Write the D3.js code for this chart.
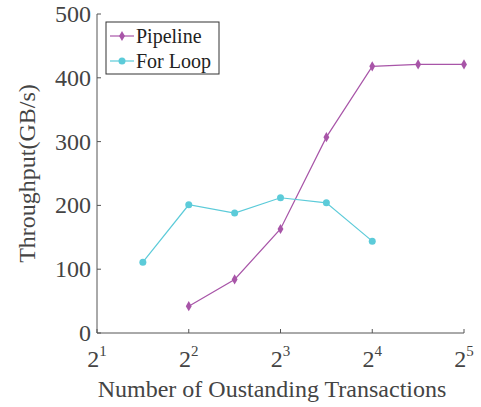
<!DOCTYPE html>
<html>
<head>
<meta charset="utf-8">
<script src="https://cdn.jsdelivr.net/npm/d3@7"></script>
<style>
  svg text, svg tspan { font-family: "Times New Roman", "Liberation Serif", Times, serif !important; }
</style>
</head>
<body style="margin:0">
<div id="chart"></div>
<script>
// data
const pipelineX = [4, 5.657, 8, 11.314, 16, 22.627, 32];
const pipelineY = [42, 84, 163, 307, 418, 421, 421];
const forLoopX = [2.828, 4, 5.657, 8, 11.314, 16];
const forLoopY = [111, 201, 188, 212, 204, 144];
const xTickExps = [1, 2, 3, 4, 5];
const yTicks = [0, 100, 200, 300, 400, 500];

const W = 481, H = 407;
const margin = { left: 97, right: 17, top: 14, bottom: 74 };
const textColor = "#444";
const axisColor = "#555";
const pipeColor = "#a855a8";
const loopColor = "#5ccbd9";

const svg = d3.select("#chart").append("svg")
    .attr("width", W)
    .attr("height", H);

const x = d3.scaleLog().base(2)
    .domain([2, 32])
    .range([margin.left, W - margin.right]);

const y = d3.scaleLinear()
    .domain([0, 500])
    .range([H - margin.bottom, margin.top]);

function txt(sel, size) {
    return sel.attr("font-size", size)
        .attr("fill", textColor)
        .attr("font-family", "Times New Roman");
}

// x axis
const xAxis = svg.append("g");
xAxis.append("line")
    .attr("x1", x(2)).attr("x2", x(32))
    .attr("y1", y(0)).attr("y2", y(0))
    .attr("stroke", axisColor).attr("stroke-width", 1);
xAxis.selectAll("line.tick")
    .data(xTickExps)
    .enter().append("line")
    .attr("class", "tick")
    .attr("x1", d => x(Math.pow(2, d))).attr("x2", d => x(Math.pow(2, d)))
    .attr("y1", y(0)).attr("y2", y(0) - 4)
    .attr("stroke", axisColor);
const xl = xAxis.selectAll("text.tl")
    .data(xTickExps)
    .enter().append("text")
    .attr("class", "tl")
    .attr("x", d => x(Math.pow(2, d)))
    .attr("y", y(0) + 34)
    .attr("text-anchor", "middle");
txt(xl, 24);
xl.append("tspan").text("2");
xl.append("tspan").attr("dy", -11).attr("font-size", 15).text(d => d);

// y axis
const yAxis = svg.append("g");
yAxis.append("line")
    .attr("x1", x(2)).attr("x2", x(2))
    .attr("y1", y(0)).attr("y2", y(500))
    .attr("stroke", axisColor);
yAxis.selectAll("line.tick")
    .data(yTicks)
    .enter().append("line")
    .attr("class", "tick")
    .attr("x1", x(2)).attr("x2", x(2) + 4)
    .attr("y1", d => y(d)).attr("y2", d => y(d))
    .attr("stroke", axisColor);
txt(yAxis.selectAll("text")
    .data(yTicks)
    .enter().append("text")
    .attr("x", x(2) - 6)
    .attr("y", d => y(d) + 8)
    .attr("text-anchor", "end")
    .text(d => d), 24);

// axis titles
txt(svg.append("text")
    .attr("x", 272)
    .attr("y", 397)
    .attr("text-anchor", "middle")
    .text("Number of Oustanding Transactions"), 24);
txt(svg.append("text")
    .attr("transform", `translate(35, ${(y(0) + y(500)) / 2}) rotate(-90)`)
    .attr("text-anchor", "middle")
    .text("Throughput(GB/s)"), 24);

// series
const line = d3.line().x(d => x(d[0])).y(d => y(d[1]));
const pipeData = pipelineX.map((v, i) => [v, pipelineY[i]]);
const loopData = forLoopX.map((v, i) => [v, forLoopY[i]]);

svg.append("path").datum(pipeData)
    .attr("d", line).attr("fill", "none")
    .attr("stroke", pipeColor).attr("stroke-width", 1.2);
svg.append("path").datum(loopData)
    .attr("d", line).attr("fill", "none")
    .attr("stroke", loopColor).attr("stroke-width", 1.2);

const diamond = d3.symbol().type(d3.symbolDiamond).size(30);
svg.selectAll("path.pm")
    .data(pipeData)
    .enter().append("path")
    .attr("class", "pm")
    .attr("d", diamond)
    .attr("transform", d => `translate(${x(d[0])},${y(d[1])})`)
    .attr("fill", pipeColor);
svg.selectAll("circle.lm")
    .data(loopData)
    .enter().append("circle")
    .attr("class", "lm")
    .attr("cx", d => x(d[0])).attr("cy", d => y(d[1]))
    .attr("r", 3.5)
    .attr("fill", loopColor);

// legend
const lg = svg.append("g").attr("transform", "translate(106,22)");
lg.append("rect")
    .attr("width", 113).attr("height", 52)
    .attr("fill", "#fff").attr("stroke", "#333").attr("stroke-width", 1);
const items = [["Pipeline", pipeColor, "d"], ["For Loop", loopColor, "c"]];
items.forEach((it, i) => {
    const cy = 14 + i * 25;
    lg.append("line")
        .attr("x1", 4).attr("x2", 28).attr("y1", cy).attr("y2", cy)
        .attr("stroke", it[1]).attr("stroke-width", 1.2);
    if (it[2] === "d") {
        lg.append("path").attr("d", diamond)
            .attr("transform", `translate(16,${cy})`).attr("fill", it[1]);
    } else {
        lg.append("circle").attr("cx", 16).attr("cy", cy).attr("r", 3.5).attr("fill", it[1]);
    }
    txt(lg.append("text")
        .attr("x", 30).attr("y", cy + 7)
        .text(it[0]), 20).attr("fill", "#222");
});
</script>
</body>
</html>
